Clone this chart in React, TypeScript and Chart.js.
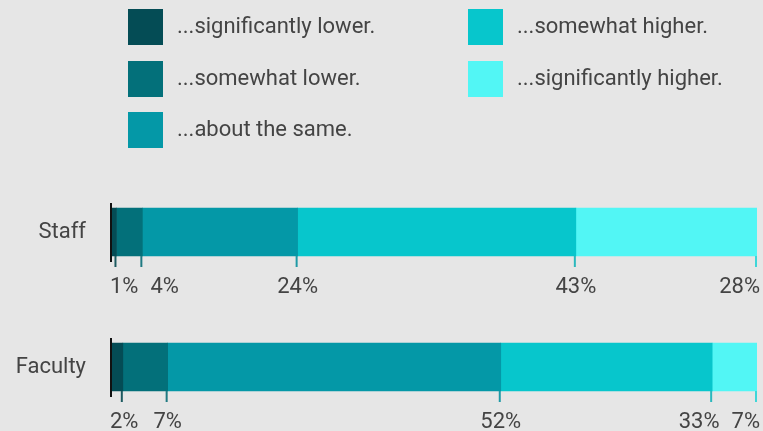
import React, { useEffect, useRef } from "react";
import { Chart, registerables } from "chart.js";

Chart.register(...registerables);

const categories = ["Staff", "Faculty"];
const seriesNames = [
  "...significantly lower.",
  "...somewhat lower.",
  "...about the same.",
  "...somewhat higher.",
  "...significantly higher.",
];
const staffValues = [1, 4, 24, 43, 28];
const facultyValues = [2, 7, 52, 33, 7];
const seriesColors = ["#044c55", "#03707a", "#0498a7", "#07c6cc", "#52f6f5"];
const tickColors = ["#1d5a60", "#1f7a82", "#1f9aa6", "#2bb8bd", "#3fd6d8"];

const BG = "#e6e6e6";
const TEXT = "#444444";
const FONT = "Roboto, 'Noto Sans', sans-serif";
const FONT_SIZE = 22;

const rows = [staffValues, facultyValues];
const totals = rows.map((r) => r.reduce((a, b) => a + b, 0));

const labelsPlugin = {
  id: "segLabels",
  afterDatasetsDraw(chart: any) {
    const ctx = chart.ctx;
    const area = chart.chartArea;
    ctx.save();
    ctx.font = `${FONT_SIZE}px ${FONT}`;
    ctx.textBaseline = "middle";
    ctx.textAlign = "left";
    for (let j = 0; j < categories.length; j++) {
      const items: any[] = [];
      let top = 0;
      let bottom = 0;
      for (let i = 0; i < seriesNames.length; i++) {
        const el = chart.getDatasetMeta(i).data[j];
        top = el.y - el.height / 2;
        bottom = el.y + el.height / 2;
        const text = `${rows[j][i]}%`;
        const w = ctx.measureText(text).width;
        items.push({ x: el.x, text, w, color: tickColors[i] });
      }
      // ticks at segment ends
      ctx.lineWidth = 2;
      items.forEach((it) => {
        ctx.strokeStyle = it.color;
        ctx.beginPath();
        ctx.moveTo(it.x - 1, bottom);
        ctx.lineTo(it.x - 1, bottom + 11);
        ctx.stroke();
      });
      // zero line
      ctx.strokeStyle = "#111111";
      ctx.lineWidth = 2;
      ctx.beginPath();
      ctx.moveTo(area.left + 1, top - 5);
      ctx.lineTo(area.left + 1, bottom + 6);
      ctx.stroke();
      // label layout: centred on tick, clamped, pushed apart
      const gap = 12;
      const minL = area.left;
      const maxR = chart.width - 3;
      const lefts = items.map((it) => it.x - it.w / 2);
      for (let k = 0; k < items.length; k++) {
        if (lefts[k] < minL) lefts[k] = minL;
        if (k > 0) {
          const prevR = lefts[k - 1] + items[k - 1].w + gap;
          if (lefts[k] < prevR) lefts[k] = prevR;
        }
      }
      for (let k = items.length - 1; k >= 0; k--) {
        if (lefts[k] + items[k].w > maxR) lefts[k] = maxR - items[k].w;
        if (k < items.length - 1) {
          const nextL = lefts[k + 1] - gap - items[k].w;
          if (lefts[k] > nextL) lefts[k] = nextL;
        }
      }
      ctx.fillStyle = TEXT;
      items.forEach((it, k) => {
        ctx.fillText(it.text, lefts[k], bottom + 31);
      });
    }
    ctx.restore();
  },
};

export default function App() {
  const ref = useRef<HTMLCanvasElement | null>(null);
  useEffect(() => {
    if (!ref.current) return;
    const chart = new Chart(ref.current, {
      type: "bar",
      data: {
        labels: categories,
        datasets: seriesNames.map((name, i) => ({
          label: name,
          data: rows.map((r, j) => (r[i] / totals[j]) * 100),
          backgroundColor: seriesColors[i],
          borderWidth: 0,
          barThickness: 48,
        })),
      },
      options: {
        indexAxis: "y",
        responsive: true,
        maintainAspectRatio: false,
        animation: false,
        layout: { padding: { top: 164.5, bottom: 5.5, left: 0, right: 6 } },
        plugins: {
          legend: { display: false },
          tooltip: { enabled: false },
        },
        scales: {
          x: { stacked: true, min: 0, max: 100, display: false },
          y: {
            stacked: true,
            grid: { display: false, drawTicks: false },
            border: { display: false },
            ticks: {
              color: TEXT,
              font: { family: FONT, size: FONT_SIZE },
              padding: 24,
            },
            afterFit: (s: any) => {
              s.width = 110;
              s.paddingTop = 0;
              s.paddingBottom = 0;
            },
          },
        },
      },
      plugins: [labelsPlugin],
    } as any);
    return () => chart.destroy();
  }, []);

  const legendPos = [
    { left: 128, top: 9 },
    { left: 128, top: 61 },
    { left: 128, top: 112 },
    { left: 468, top: 9 },
    { left: 468, top: 61 },
  ];

  return (
    <div
      style={{
        position: "absolute",
        left: 0,
        top: 0,
        width: 763,
        height: 431,
        overflow: "hidden",
        background: BG,
        fontFamily: FONT,
      }}
    >
      <div style={{ position: "absolute", left: 0, top: 0, width: 763, height: 440 }}>
        <canvas ref={ref} />
      </div>
      {seriesNames.map((name, i) => (
        <div key={name}>
          <div
            style={{
              position: "absolute",
              left: legendPos[i].left,
              top: legendPos[i].top,
              width: 35,
              height: 36,
              background: seriesColors[i],
            }}
          />
          <div
            style={{
              position: "absolute",
              left: legendPos[i].left + 49,
              top: legendPos[i].top,
              height: 36,
              lineHeight: "34px",
              fontSize: FONT_SIZE,
              color: TEXT,
              whiteSpace: "nowrap",
            }}
          >
            {name}
          </div>
        </div>
      ))}
    </div>
  );
}
